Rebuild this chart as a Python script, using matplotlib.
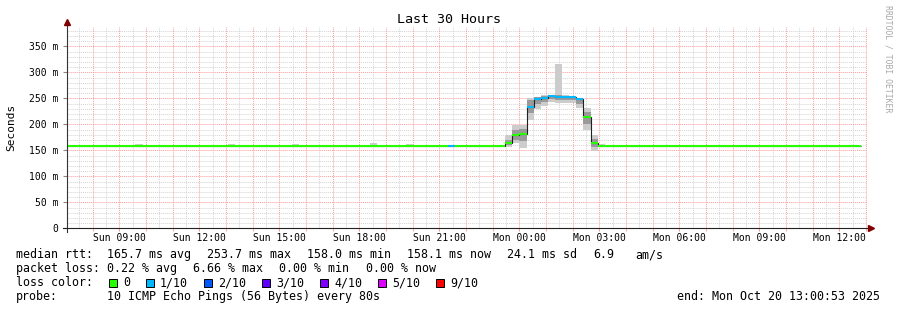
import numpy as np
import matplotlib.pyplot as plt
from matplotlib.patches import Rectangle

plt.rcParams['font.family'] = 'DejaVu Sans Mono'

# 16 minute bins, counted from Sun 00:00 (first bin = bin 26)
first_bin = 26
bin_minutes = 16

median_ms = [
    158, 158, 158, 159, 158, 158, 158, 159, 158, 158, 158, 158, 158, 159, 159, 159,
    159, 158, 159, 158, 158, 158, 158, 158, 158, 158, 158, 158, 159, 159, 158, 158,
    158, 158, 159, 159, 158, 159, 158, 159, 158, 158, 159, 159, 159, 158, 158, 158,
    158, 158, 158, 158, 159, 159, 158, 159, 158, 158, 158, 158, 158, 158, 165, 180,
    182, 234, 248, 251, 254, 253, 253, 253, 249, 214, 165, 159, 159, 159, 159, 158,
    158, 158, 158, 158, 159, 159, 158, 158, 158, 158, 158, 158, 159, 159, 158, 158,
    158, 158, 158, 159, 159, 158, 159, 159, 158, 158, 158, 158, 159, 158, 159, 159,
]
smoke_hi = [
    159, 159, 159, 160, 159, 159, 159, 160, 159, 159, 162, 159, 159, 160, 160, 160,
    160, 159, 160, 159, 159, 159, 159, 162, 159, 159, 159, 159, 160, 160, 159, 159,
    162, 159, 160, 160, 159, 160, 159, 160, 159, 159, 160, 165, 160, 159, 159, 159,
    163, 159, 159, 159, 160, 160, 159, 160, 159, 159, 159, 159, 159, 159, 180, 199,
    199, 251, 252, 256, 257, 317, 256, 255, 251, 231, 180, 162, 160, 160, 160, 159,
    159, 159, 159, 159, 160, 160, 159, 159, 159, 159, 159, 159, 160, 160, 159, 159,
    159, 159, 159, 160, 160, 159, 160, 160, 159, 159, 159, 159, 160, 159, 160, 160,
]
smoke_lo = [
    157, 157, 157, 157, 157, 157, 157, 157, 157, 157, 157, 157, 157, 157, 157, 157,
    157, 157, 157, 157, 157, 157, 157, 157, 157, 157, 157, 157, 157, 157, 157, 157,
    157, 157, 157, 157, 157, 157, 157, 157, 157, 157, 157, 157, 157, 157, 157, 157,
    157, 157, 157, 157, 157, 157, 157, 157, 157, 157, 157, 157, 157, 157, 156, 164,
    155, 209, 230, 235, 244, 241, 241, 241, 231, 190, 148, 157, 157, 157, 157, 157,
    157, 157, 157, 157, 157, 157, 157, 157, 157, 157, 157, 157, 157, 157, 157, 157,
    157, 157, 157, 157, 157, 157, 157, 157, 157, 157, 157, 157, 157, 157, 157, 157,
]
# pings lost out of 10
loss = [
    0, 0, 0, 0, 0, 0, 0, 0, 0, 0, 0, 0, 0, 0, 0, 0,
    0, 0, 0, 0, 0, 0, 0, 0, 0, 0, 0, 0, 0, 0, 0, 0,
    0, 0, 0, 0, 0, 0, 0, 0, 0, 0, 0, 0, 0, 0, 0, 0,
    0, 0, 0, 0, 0, 0, 1, 0, 0, 0, 0, 0, 0, 0, 0, 0,
    0, 1, 1, 1, 1, 1, 1, 1, 1, 0, 0, 0, 0, 0, 0, 0,
    0, 0, 0, 0, 0, 0, 0, 0, 0, 0, 0, 0, 0, 0, 0, 0,
    0, 0, 0, 0, 0, 0, 0, 0, 0, 0, 0, 0, 0, 0, 0, 0,
]
# darker inner smoke for the evening hump (bins 88..100)
hump_first = 88
inner_lo = [160, 170, 168, 222, 240, 244, 248, 247, 246, 246, 240, 200, 157]
inner_hi = [170, 190, 192, 246, 252, 254, 256, 256, 255, 254, 250, 224, 172]

tick_hours = [9, 12, 15, 18, 21, 24, 27, 30, 33, 36]
tick_labels = ['Sun 09:00', 'Sun 12:00', 'Sun 15:00', 'Sun 18:00', 'Sun 21:00',
               'Mon 00:00', 'Mon 03:00', 'Mon 06:00', 'Mon 09:00', 'Mon 12:00']
y_ticks = [0, 50, 100, 150, 200, 250, 300, 350]
y_labels = ['0', '50 m', '100 m', '150 m', '200 m', '250 m', '300 m', '350 m']

loss_colors = {0: '#26ff00', 1: '#00b8ff', 2: '#0059ff', 3: '#5e00ff',
               4: '#7e00ff', 5: '#dd00ff', 9: '#ff0000'}
loss_names = {0: '0', 1: '1/10', 2: '2/10', 3: '3/10', 4: '4/10', 5: '5/10', 9: '9/10'}

t_start = 7 + 53 / 3600.0
t_end = t_start + 30

W, H = 897, 310
def fx(x):
    return x / W
def fy(y):
    return 1 - y / H

fig = plt.figure(figsize=(W / 100, H / 100), dpi=100)
fig.patch.set_facecolor('white')
ax = fig.add_axes([fx(66.5), 81.7 / H, 800 / W, 201.6 / H])

n = len(median_ms)
edges = (first_bin + np.arange(n + 1)) * bin_minutes / 60.0
med = np.array(median_ms)

# grid
for h in np.arange(7.5, 37.1, 0.5):
    if h % 1:
        ax.axvline(h, color='#d4d4d4', lw=0.7, ls=(0, (1, 1)), zorder=0)
for v in range(10, 390, 10):
    if v % 50:
        ax.axhline(v, color='#d4d4d4', lw=0.7, ls=(0, (1, 1)), zorder=0)
for h in range(8, 38):
    ax.axvline(h, color='#ff9a9a', lw=0.7, ls=(0, (1, 1)), zorder=0.5)
for v in y_ticks[1:]:
    ax.axhline(v, color='#ff9a9a', lw=0.7, ls=(0, (1, 1)), zorder=0.5)

# smoke
ax.stairs(smoke_hi, edges, baseline=smoke_lo, fill=True, color='#cccccc', lw=0, zorder=1)
h_edges = edges[hump_first - first_bin: hump_first - first_bin + len(inner_lo) + 1]
ax.stairs(inner_hi, h_edges, baseline=inner_lo, fill=True, color='#9a9a9a', lw=0, zorder=1.1)

# median
ax.stairs(med, edges, baseline=None, color='#202020', lw=0.8, zorder=2)
ax.hlines(med, edges[:-1], edges[1:], colors=[loss_colors[l] for l in loss],
          lw=1.5, capstyle='butt', zorder=3)

ax.set_xlim(t_start, t_end)
ax.set_ylim(0, 388)
for s in ax.spines.values():
    s.set_visible(False)

ax.set_xticks(tick_hours)
ax.set_xticklabels(tick_labels, fontsize=7)
ax.set_xticks(range(8, 38), minor=True)
ax.tick_params(axis='x', which='both', length=2, color='#ff9a9a', pad=1.5)
ax.set_yticks(y_ticks)
ax.set_yticklabels(y_labels, fontsize=7)
ax.tick_params(axis='y', length=3, color='#888888', pad=3)

# axes with arrows
ax.plot([0, 0], [-0.02, 1.02], color='#333333', lw=0.8, transform=ax.transAxes, clip_on=False, zorder=4)
ax.plot([-0.005, 1.005], [0, 0], color='#222222', lw=0.8, transform=ax.transAxes, clip_on=False, zorder=4)
ax.plot([0], [1.025], marker='^', ms=4, color='#800000', transform=ax.transAxes, clip_on=False, zorder=5)
ax.plot([1.006], [0], marker='>', ms=4, color='#800000', transform=ax.transAxes, clip_on=False, zorder=5)

fig.text(0.5, fy(19.5), 'Last 30 Hours', ha='center', va='center', fontsize=9.6)
fig.text(fx(11), fy(127), 'Seconds', rotation=90, ha='center', va='center', fontsize=8)
fig.text(fx(887.5), fy(59), 'RRDTOOL / TOBI OETIKER', rotation=270, ha='center', va='center',
         fontsize=5.9, color='#a8a8a8')

fs = 8.4
row1 = [(16, 'median rtt:'), (107, '165.7 ms avg'), (207, '253.7 ms max'),
        (307, '158.0 ms min'), (407, '158.1 ms now'), (507, '24.1 ms sd'),
        (593, '6.9'), (635, 'am/s')]
for x, s in row1:
    fig.text(fx(x), fy(258), s, va='baseline', fontsize=fs)
row2 = [(16, 'packet loss:'), (107, '0.22 % avg'), (193, '6.66 % max'),
        (279, '0.00 % min'), (366, '0.00 % now')]
for x, s in row2:
    fig.text(fx(x), fy(272), s, va='baseline', fontsize=fs)
fig.text(fx(16), fy(286), 'loss color:', va='baseline', fontsize=fs)
sq_x = [109, 145.5, 203.5, 261.5, 319.5, 377.5, 435.5]
for x, key in zip(sq_x, loss_colors):
    fig.add_artist(Rectangle((fx(x), fy(286.5)), 8 / W, 8 / H, transform=fig.transFigure,
                             facecolor=loss_colors[key], edgecolor='black', lw=0.7))
    fig.text(fx(x + 14.5), fy(286), loss_names[key], va='baseline', fontsize=fs)
fig.text(fx(16), fy(300), 'probe:', va='baseline', fontsize=fs)
fig.text(fx(107), fy(300), '10 ICMP Echo Pings (56 Bytes) every 80s', va='baseline', fontsize=fs)
fig.text(fx(880), fy(300), 'end: Mon Oct 20 13:00:53 2025', ha='right', va='baseline', fontsize=fs)

fig.savefig('out.png', dpi=100)
